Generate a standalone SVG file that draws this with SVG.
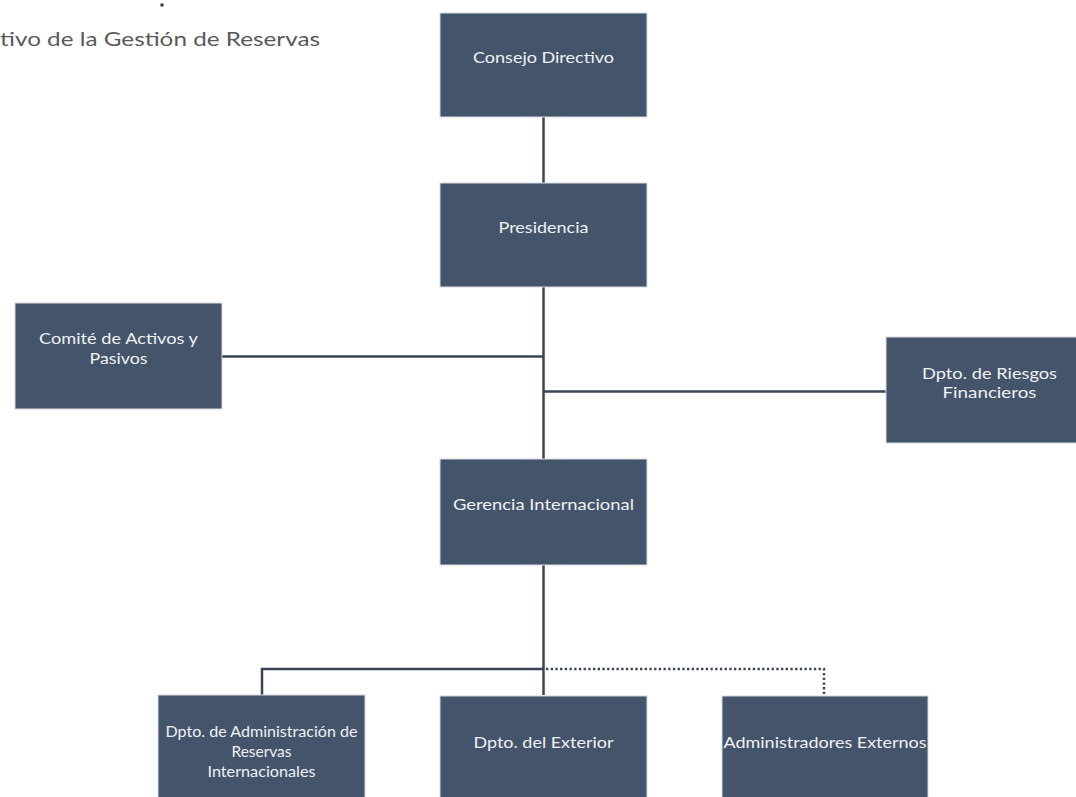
<svg xmlns="http://www.w3.org/2000/svg" width="1076" height="797" viewBox="0 0 1076 797">
<style>
.box{fill:#44546A;stroke:#d6dade;stroke-width:1}
.lbl{font-family:Lato,"Open Sans","Liberation Sans",sans-serif;font-size:16px;fill:#eef1f4;text-anchor:middle}
.ln{fill:none;stroke:#3a4454;stroke-width:2.5}
.dot{fill:none;stroke:#3a4454;stroke-width:2.5;stroke-dasharray:2.3 2.4}
.title{font-family:Lato,"Open Sans","Liberation Sans",sans-serif;font-size:19px;fill:#595959}
</style>
<rect width="1076" height="797" fill="#ffffff"/>
<text class="title" x="0" y="46" textLength="320" lengthAdjust="spacingAndGlyphs">tivo de la Gestión de Reservas</text>
<rect x="160.5" y="3.5" width="3" height="3" fill="#333"/>
<g id="connectors">
<line class="ln" x1="543.5" y1="117" x2="543.5" y2="183"/>
<line class="ln" x1="543.5" y1="287" x2="543.5" y2="459"/>
<line class="ln" x1="222" y1="356.5" x2="543.5" y2="356.5"/>
<line class="ln" x1="543.5" y1="391.5" x2="886" y2="391.5"/>
<line class="ln" x1="543.5" y1="565" x2="543.5" y2="695"/>
<polyline class="ln" points="543.5,669 262,669 262,695"/>
<polyline class="dot" points="546,669 824,669 824,694"/>
</g>
<g id="consejo">
<rect class="box" x="440" y="13" width="207" height="104"/>
<text class="lbl" x="543.5" y="62.5" textLength="141" lengthAdjust="spacingAndGlyphs">Consejo Directivo</text>
</g>
<g id="presidencia">
<rect class="box" x="440" y="183" width="207" height="104"/>
<text class="lbl" x="543.5" y="233" textLength="90" lengthAdjust="spacingAndGlyphs">Presidencia</text>
</g>
<g id="comite">
<rect class="box" x="15" y="303" width="207" height="106"/>
<text class="lbl" x="118.5" y="344" textLength="159" lengthAdjust="spacingAndGlyphs">Comité de Activos y</text>
<text class="lbl" x="118.5" y="363.5" textLength="58" lengthAdjust="spacingAndGlyphs">Pasivos</text>
</g>
<g id="riesgos">
<rect class="box" x="886" y="337" width="207" height="106"/>
<text class="lbl" x="989.5" y="378.5" textLength="135" lengthAdjust="spacingAndGlyphs">Dpto. de Riesgos</text>
<text class="lbl" x="989.5" y="398" textLength="94" lengthAdjust="spacingAndGlyphs">Financieros</text>
</g>
<g id="gerencia">
<rect class="box" x="440" y="459" width="207" height="106"/>
<text class="lbl" x="543.5" y="510" textLength="181" lengthAdjust="spacingAndGlyphs">Gerencia Internacional</text>
</g>
<g id="admin-reservas">
<rect class="box" x="158" y="695" width="207" height="106"/>
<text class="lbl" x="261.5" y="737" textLength="192" lengthAdjust="spacingAndGlyphs">Dpto. de Administración de</text>
<text class="lbl" x="261.5" y="757" textLength="60" lengthAdjust="spacingAndGlyphs">Reservas</text>
<text class="lbl" x="261.5" y="777" textLength="108" lengthAdjust="spacingAndGlyphs">Internacionales</text>
</g>
<g id="exterior">
<rect class="box" x="440" y="696" width="207" height="106"/>
<text class="lbl" x="543.5" y="748" textLength="140" lengthAdjust="spacingAndGlyphs">Dpto. del Exterior</text>
</g>
<g id="externos">
<rect class="box" x="722" y="696" width="206" height="106"/>
<text class="lbl" x="825" y="748" textLength="203" lengthAdjust="spacingAndGlyphs">Administradores Externos</text>
</g>
</svg>
